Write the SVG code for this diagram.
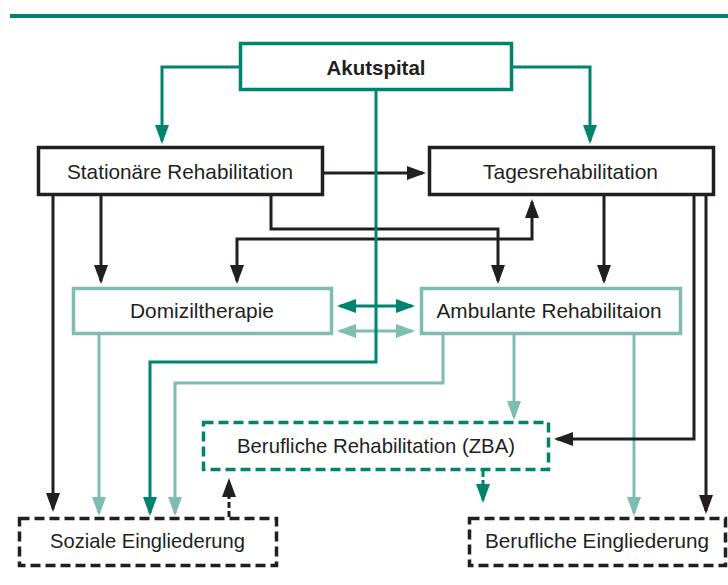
<svg xmlns="http://www.w3.org/2000/svg" width="728" height="585" viewBox="0 0 728 585">
<style>
  .t { font-family: "Liberation Sans", Arial, sans-serif; font-size: 21px; fill: #231f20; text-anchor: middle; }
  .b { font-weight: bold; }
  .box { fill: #ffffff; stroke-width: 3.5; }
  .g { stroke: #00846e; }
  .k { stroke: #231f20; }
  .l { stroke: #7fbcb1; }
  .dash { stroke-dasharray: 10 5; }
  .c { fill: none; stroke-width: 3; }
</style>
<defs>
  <marker id="ag" markerUnits="userSpaceOnUse" markerWidth="20" markerHeight="15" refX="16" refY="7" orient="auto-start-reverse">
    <path d="M0,0 L19,7 L0,14 z" fill="#00846e"/>
  </marker>
  <marker id="ak" markerUnits="userSpaceOnUse" markerWidth="20" markerHeight="15" refX="16" refY="7" orient="auto-start-reverse">
    <path d="M0,0 L19,7 L0,14 z" fill="#231f20"/>
  </marker>
  <marker id="al" markerUnits="userSpaceOnUse" markerWidth="20" markerHeight="15" refX="16" refY="7" orient="auto-start-reverse">
    <path d="M0,0 L19,7 L0,14 z" fill="#7fbcb1"/>
  </marker>
</defs>

<line x1="10" y1="16" x2="728" y2="16" stroke="#00846e" stroke-width="4"/>

<g id="connectors">
  <!-- light teal -->
  <path class="c l" d="M99,335 V513" marker-end="url(#al)"/>
  <path class="c l" d="M443,335 V383 H175 V513" marker-end="url(#al)"/>
  <path class="c l" d="M514,335 V417" marker-end="url(#al)"/>
  <path class="c l" d="M634,335 V513" marker-end="url(#al)"/>
  <path class="c l" d="M340,331 H412" marker-start="url(#al)" marker-end="url(#al)"/>
  <!-- black -->
  <path class="c k" d="M324,173 H423" marker-end="url(#ak)"/>
  <path class="c k" d="M53,196 V509" marker-end="url(#ak)"/>
  <path class="c k" d="M101,196 V281" marker-end="url(#ak)"/>
  <path class="c k" d="M271,196 V229 H498 V281" marker-end="url(#ak)"/>
  <path class="c k" d="M237,281 V239 H532 V202" marker-start="url(#ak)" marker-end="url(#ak)"/>
  <path class="c k" d="M604,196 V281" marker-end="url(#ak)"/>
  <path class="c k" d="M694,196 V439 H557" marker-end="url(#ak)"/>
  <path class="c k" d="M706,196 V511" marker-end="url(#ak)"/>
  <path class="c k" d="M229,517 V481" stroke-dasharray="6 3" marker-end="url(#ak)"/>
  <!-- dark green -->
  <path class="c g" d="M239,67 H162 V141" marker-end="url(#ag)"/>
  <path class="c g" d="M513,67 H590 V141" marker-end="url(#ag)"/>
  <path class="c g" d="M376,91 V362 H150 V513" marker-end="url(#ag)"/>
  <path class="c g" d="M340,306 H412" marker-start="url(#ag)" marker-end="url(#ag)"/>
  <path class="c g" d="M483,471 V500" stroke-dasharray="6 3" marker-end="url(#ag)"/>
</g>

<g id="akutspital">
  <rect class="box g" x="240.5" y="43.5" width="271" height="46"/>
  <text class="t b" x="376" y="75" textLength="99" lengthAdjust="spacingAndGlyphs">Akutspital</text>
</g>
<g id="stationaer">
  <rect class="box k" x="38.5" y="147.5" width="284" height="47"/>
  <text class="t" x="180" y="179" textLength="226" lengthAdjust="spacingAndGlyphs">Stationäre Rehabilitation</text>
</g>
<g id="tages">
  <rect class="box k" x="429.5" y="147.5" width="284" height="47"/>
  <text class="t" x="570.5" y="179" textLength="175" lengthAdjust="spacingAndGlyphs">Tagesrehabilitation</text>
</g>
<g id="domizil">
  <rect class="box l" x="73.5" y="288.5" width="258" height="45"/>
  <text class="t" x="202" y="318" textLength="144" lengthAdjust="spacingAndGlyphs">Domiziltherapie</text>
</g>
<g id="ambulant">
  <rect class="box l" x="421.5" y="288.5" width="259" height="45"/>
  <text class="t" x="549" y="318" textLength="225" lengthAdjust="spacingAndGlyphs">Ambulante Rehabilitaion</text>
</g>
<g id="zba">
  <rect class="box g dash" x="203.5" y="422.5" width="345" height="47"/>
  <text class="t" x="376" y="453" textLength="278" lengthAdjust="spacingAndGlyphs">Berufliche Rehabilitation (ZBA)</text>
</g>
<g id="sozial">
  <rect class="box k dash" x="19.5" y="518.5" width="257" height="47"/>
  <text class="t" x="147.5" y="548" textLength="195" lengthAdjust="spacingAndGlyphs">Soziale Eingliederung</text>
</g>
<g id="beruflich">
  <rect class="box k dash" x="469.5" y="518.5" width="256" height="47"/>
  <text class="t" x="597" y="548" textLength="224" lengthAdjust="spacingAndGlyphs">Berufliche Eingliederung</text>
</g>
</svg>
